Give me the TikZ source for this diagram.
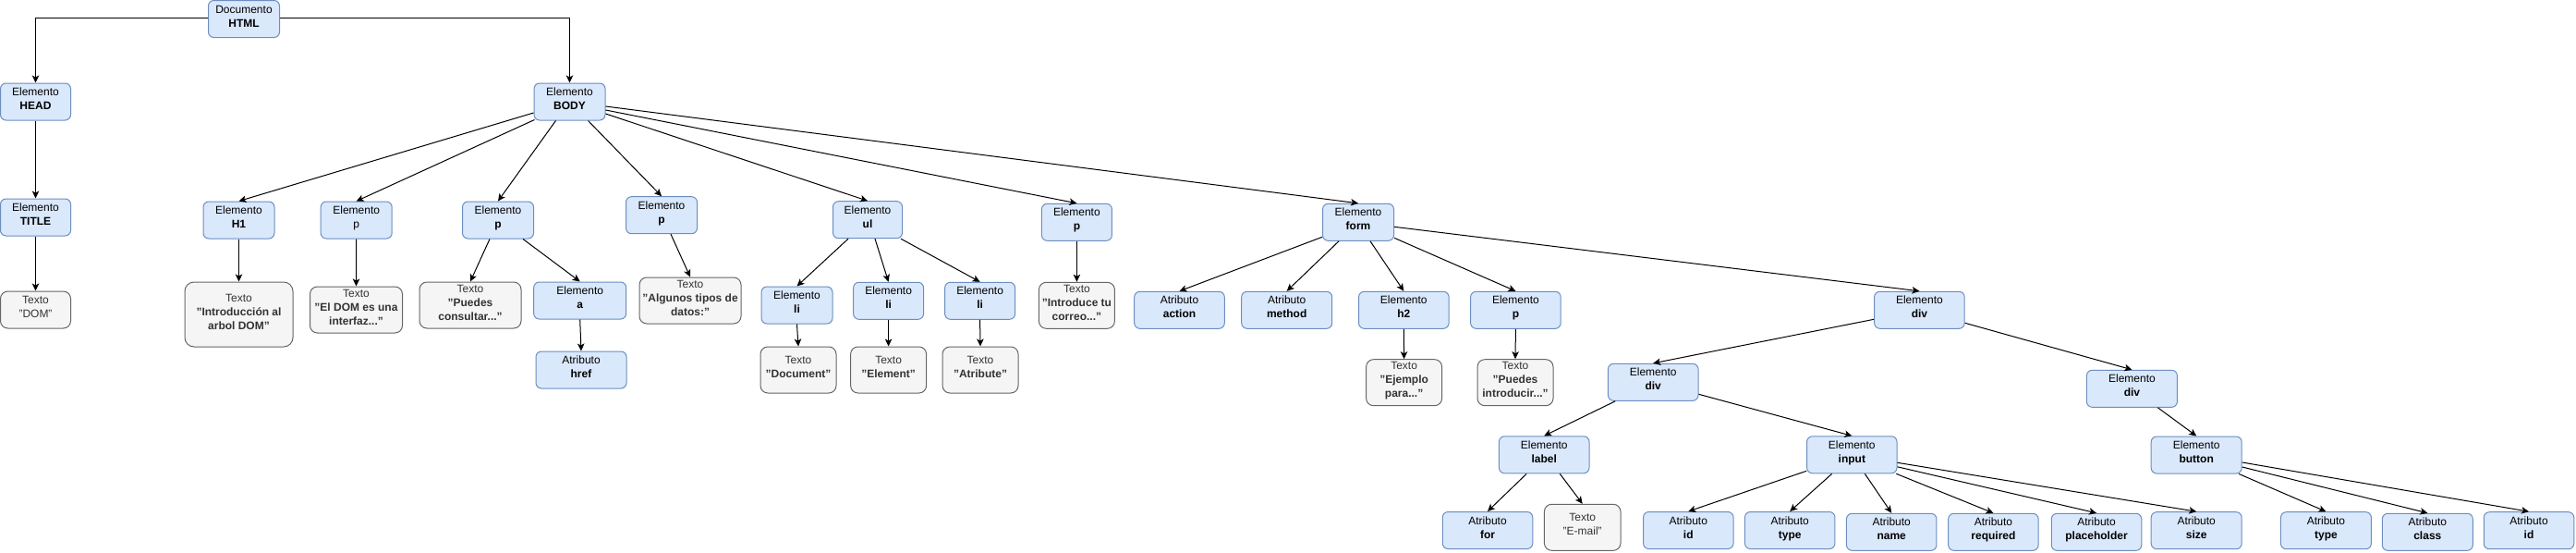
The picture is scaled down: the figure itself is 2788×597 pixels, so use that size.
\documentclass[tikz,border=0pt]{standalone}
\usepackage{fontspec}
\setmainfont{Liberation Sans}
\usetikzlibrary{arrows.meta}
\definecolor{bfill}{HTML}{DAE8FC}
\definecolor{bline}{HTML}{6C8EBF}
\definecolor{gfill}{HTML}{F5F5F5}
\definecolor{gline}{HTML}{666666}
\definecolor{gtext}{HTML}{333333}
\newcommand{\lbl}[1]{\raisebox{2pt}[\height][\depth]{\begin{tabular}{@{}c@{}}#1\end{tabular}}}
\begin{document}
\begin{tikzpicture}[x=1pt,y=-1pt,
  every node/.style={font=\fontsize{12}{15}\selectfont},
  elbox/.style={draw=bline, fill=bfill, rounded corners=6pt, line width=1pt,
    minimum width=#1, minimum height=40pt, inner sep=0pt, text=black},
  elbox/.default=77pt,
  txbox/.style={draw=gline, fill=gfill, rounded corners=8pt, line width=1pt,
    minimum width=#1, minimum height=50pt, inner sep=0pt, text=gtext},
  txbox/.default=82pt,
  link/.style={-{Stealth[length=8pt,width=7.5pt,inset=2pt]}, line width=1pt, black}
]
\useasboundingbox (0,0) rectangle (2788,597);

% level 0-1
\node[elbox] (html) at (264,20.5) {\lbl{Documento\\\textbf{HTML}}};
\node[elbox=76pt] (head) at (38.5,110) {\lbl{Elemento\\\textbf{HEAD}}};
\node[elbox=76pt] (title) at (38.5,235) {\lbl{Elemento\\\textbf{TITLE}}};
\node[txbox=76pt, minimum height=40pt] (dom) at (38.5,335) {\lbl{Texto\\"DOM"}};
\node[elbox] (body) at (616.5,110) {\lbl{Elemento\\\textbf{BODY}}};

% body children
\node[elbox] (h1) at (258.5,238) {\lbl{Elemento\\\textbf{H1}}};
\node[elbox] (p2) at (385.7,238) {\lbl{Elemento\\p}};
\node[elbox] (p3) at (539,238) {\lbl{Elemento\\\textbf{p}}};
\node[elbox] (p4) at (716,232.7) {\lbl{Elemento\\\textbf{p}}};
\node[elbox=75pt] (ul) at (939,237.7) {\lbl{Elemento\\\textbf{ul}}};
\node[elbox=76pt] (p5) at (1165.4,240.3) {\lbl{Elemento\\\textbf{p}}};
\node[elbox] (form) at (1470,240.3) {\lbl{Elemento\\\textbf{form}}};

\node[txbox=117pt, minimum height=70pt, rounded corners=10pt] (intro) at (258.5,340) {\lbl{Texto\\\textbf{"Introducción al}\\\textbf{arbol DOM"}}};
\node[txbox=100pt] (eldom) at (385.5,335) {\lbl{Texto\\\textbf{"El DOM es una}\\\textbf{interfaz..."}}};
\node[txbox=110pt] (consultar) at (509,330) {\lbl{Texto\\\textbf{"Puedes}\\\textbf{consultar..."}}};
\node[elbox=100pt] (ela) at (627.7,325) {\lbl{Elemento\\\textbf{a}}};
\node[elbox=98pt] (href) at (629,400) {\lbl{Atributo\\\textbf{href}}};
\node[txbox=110pt] (algunos) at (747,325) {\lbl{Texto\\\textbf{"Algunos tipos de}\\\textbf{datos:"}}};

\node[elbox] (li1) at (862.5,330) {\lbl{Elemento\\\textbf{li}}};
\node[elbox=76pt] (li2) at (961.6,325.3) {\lbl{Elemento\\\textbf{li}}};
\node[elbox=76pt] (li3) at (1060.6,325.3) {\lbl{Elemento\\\textbf{li}}};
\node[txbox] (document) at (864,400) {\lbl{Texto\\\textbf{"Document"}}};
\node[txbox] (element) at (961.6,400) {\lbl{Texto\\\textbf{"Element"}}};
\node[txbox] (atribute) at (1061,400) {\lbl{Texto\\\textbf{"Atribute"}}};
\node[txbox] (introduce) at (1165.4,330.3) {\lbl{Texto\\\textbf{"Introduce tu}\\\textbf{correo..."}}};

% form children
\node[elbox=97.6pt] (action) at (1276.5,335.3) {\lbl{Atributo\\\textbf{action}}};
\node[elbox=98pt] (method) at (1392.7,335.3) {\lbl{Atributo\\\textbf{method}}};
\node[elbox=97.6pt] (h2) at (1519.3,335.3) {\lbl{Elemento\\\textbf{h2}}};
\node[elbox=97.6pt] (p6) at (1640.4,335.3) {\lbl{Elemento\\\textbf{p}}};
\node[txbox] (ejemplo) at (1519.6,413.7) {\lbl{Texto\\\textbf{"Ejemplo}\\\textbf{para..."}}};
\node[txbox] (introducir) at (1640,413.7) {\lbl{Texto\\\textbf{"Puedes}\\\textbf{introducir..."}}};
\node[elbox=97.6pt] (div1) at (2077.4,335.3) {\lbl{Elemento\\\textbf{div}}};
\node[elbox=97.6pt] (div2) at (1789.2,413.3) {\lbl{Elemento\\\textbf{div}}};
\node[elbox=98pt] (div3) at (2307.4,420.3) {\lbl{Elemento\\\textbf{div}}};

% div children
\node[elbox=97.6pt] (lab) at (1671.2,491.8) {\lbl{Elemento\\\textbf{label}}};
\node[elbox=97.4pt] (inp) at (2004.3,491.8) {\lbl{Elemento\\\textbf{input}}};
\node[elbox=98pt] (button) at (2377.2,492) {\lbl{Elemento\\\textbf{button}}};

\node[elbox=97.5pt] (forattr) at (1610,573.5) {\lbl{Atributo\\\textbf{for}}};
\node[txbox=82.6pt] (email) at (1712.7,570.3) {\lbl{Texto\\"E-mail"}};
\node[elbox=97.5pt] (idattr) at (1827.3,573.5) {\lbl{Atributo\\\textbf{id}}};
\node[elbox=97.5pt] (typeattr) at (1937.2,573.5) {\lbl{Atributo\\\textbf{type}}};
\node[elbox=97.5pt] (nameattr) at (2047.2,575.3) {\lbl{Atributo\\\textbf{name}}};
\node[elbox=97.5pt] (reqattr) at (2157.4,575.3) {\lbl{Atributo\\\textbf{required}}};
\node[elbox=97.5pt] (phattr) at (2269,575.3) {\lbl{Atributo\\\textbf{placeholder}}};
\node[elbox=98pt] (sizeattr) at (2377.2,573.7) {\lbl{Atributo\\\textbf{size}}};
\node[elbox=98pt] (typeattrb) at (2517.4,573.7) {\lbl{Atributo\\\textbf{type}}};
\node[elbox=98pt] (classattr) at (2627.3,575.3) {\lbl{Atributo\\\textbf{class}}};
\node[elbox=97.5pt] (idattrb) at (2737,573.7) {\lbl{Atributo\\\textbf{id}}};

% connectors
\draw[link] ([yshift=1pt]html.west) -| (head.north);
\draw[link] ([yshift=1pt]html.east) -| (body.north);
\draw[link] (head.south) -- (title.north);
\draw[link] (title.south) -- (dom.north);

\draw[link] ([yshift=-12pt]body.west) -- (h1.north);
\draw[link] ([xshift=1pt,yshift=1pt]body.south west) -- (p2.north);
\draw[link] ([xshift=-15pt]body.south) -- (p3.north);
\draw[link] ([xshift=20pt]body.south) -- (p4.north);
\draw[link] ([yshift=-13pt]body.east) -- (ul.north);
\draw[link] ([yshift=-9pt]body.east) -- (p5.north);
\draw[link] ([yshift=-5pt]body.east) -- (form.north);

\draw[link] (h1.south) -- (intro.north);
\draw[link] (p2.south) -- (eldom.north);
\draw[link] ([xshift=-9pt]p3.south) -- (consultar.north);
\draw[link] ([xshift=27pt]p3.south) -- (ela.north);
\draw[link] (ela.south) -- (href.north);
\draw[link] ([xshift=10pt]p4.south) -- (algunos.north);

\draw[link] ([xshift=-21pt]ul.south) -- (li1.north);
\draw[link] ([xshift=8pt]ul.south) -- (li2.north);
\draw[link] ([xshift=36pt]ul.south) -- (li3.north);
\draw[link] (li1.south) -- (document.north);
\draw[link] (li2.south) -- (element.north);
\draw[link] (li3.south) -- (atribute.north);
\draw[link] (p5.south) -- (introduce.north);

\draw[link] ([yshift=-16pt]form.west) -- (action.north);
\draw[link] ([xshift=-21pt]form.south) -- (method.north);
\draw[link] ([xshift=13pt]form.south) -- (h2.north);
\draw[link] ([yshift=-17pt]form.east) -- (p6.north);
\draw[link] ([yshift=-5pt]form.east) -- (div1.north);
\draw[link] (h2.south) -- (ejemplo.north);
\draw[link] (p6.south) -- (introducir.north);

\draw[link] ([yshift=-10pt]div1.west) -- (div2.north);
\draw[link] ([yshift=-14pt]div1.east) -- (div3.north);
\draw[link] ([xshift=-41pt]div2.south) -- (lab.north);
\draw[link] ([yshift=-13pt]div2.east) -- (inp.north);
\draw[link] ([xshift=28pt]div3.south) -- (button.north);

\draw[link] ([xshift=-19pt]lab.south) -- (forattr.north);
\draw[link] ([xshift=17pt]lab.south) -- (email.north);
\draw[link] ([yshift=-17.5pt]inp.west) -- (idattr.north);
\draw[link] ([xshift=-21.6pt]inp.south) -- (typeattr.north);
\draw[link] ([xshift=14pt]inp.south) -- (nameattr.north);
\draw[link] ([xshift=48pt]inp.south) -- (reqattr.north);
\draw[link] ([yshift=-13pt]inp.east) -- (phattr.north);
\draw[link] ([yshift=-8.5pt]inp.east) -- (sizeattr.north);

\draw[link] ([xshift=46pt]button.south) -- (typeattrb.north);
\draw[link] ([yshift=-13pt]button.east) -- (classattr.north);
\draw[link] ([yshift=-8pt]button.east) -- (idattrb.north);
\end{tikzpicture}
\end{document}
